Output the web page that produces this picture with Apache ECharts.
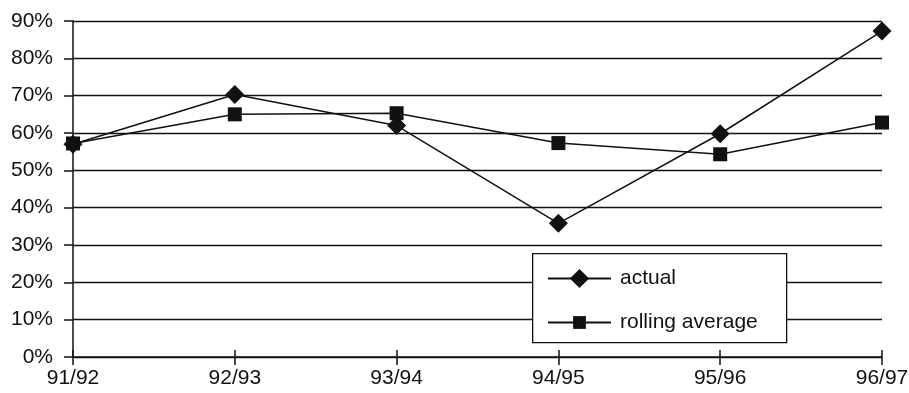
<!DOCTYPE html>
<html>
<head>
<meta charset="utf-8">
<script src="https://cdn.jsdelivr.net/npm/echarts@6/dist/echarts.min.js"></script>
<style>
html, body { margin: 0; padding: 0; background: #fff; }
#main { width: 909px; height: 393px; }
</style>
</head>
<body>
<div id="main"></div>
<script>
// seasons on the x axis
var seasons = ['91/92', '92/93', '93/94', '94/95', '95/96', '96/97'];
// percentages
var actual = [57, 70.3, 62, 35.8, 59.8, 87.3];
var rollingAverage = [57.2, 65, 65.3, 57.3, 54.3, 62.8];
var yTicks = [0, 10, 20, 30, 40, 50, 60, 70, 80, 90];

var font = 'Liberation Sans, Arial, sans-serif';
var ink = '#111';
var textStyle = { fontFamily: font, fontSize: 21, color: ink, padding: [0, 0, 0, 4] };

var chart = echarts.init(document.getElementById('main'));

chart.setOption({
    animation: false,
    backgroundColor: '#fff',
    grid: { left: 73, right: 27, top: 21, bottom: 36, outerBoundsMode: 'none' },
    // legend frame, the two entries sit on top of it
    graphic: [{
        type: 'rect',
        left: 532,
        top: 253,
        z: 10,
        shape: { width: 254, height: 89 },
        style: { fill: '#fff', stroke: ink, lineWidth: 1.3 }
    }],
    legend: [{
        data: ['actual'],
        left: 547,
        top: 268,
        padding: 0,
        itemWidth: 63,
        itemHeight: 24,
        z: 11,
        textStyle: textStyle
    }, {
        data: ['rolling average'],
        left: 547,
        top: 312,
        padding: 0,
        itemWidth: 63,
        itemHeight: 16,
        z: 11,
        textStyle: textStyle
    }],
    xAxis: [{
        type: 'category',
        data: seasons,
        boundaryGap: false,
        axisLine: { lineStyle: { color: ink, width: 1.5 } },
        axisTick: { length: 8, lineStyle: { color: ink, width: 1.5 } },
        axisLabel: { fontFamily: font, fontSize: 21, color: ink, margin: 11 },
        splitLine: { show: false }
    }, {
        type: 'category',
        data: seasons,
        position: 'bottom',
        boundaryGap: false,
        axisLine: { show: false },
        axisTick: { inside: true, length: 7, lineStyle: { color: ink, width: 1.5 } },
        axisLabel: { show: false },
        splitLine: { show: false }
    }],
    yAxis: {
        type: 'value',
        min: yTicks[0],
        max: yTicks[yTicks.length - 1],
        interval: 10,
        axisLine: { show: true, lineStyle: { color: ink, width: 1.5 } },
        axisTick: { show: true, length: 9, lineStyle: { color: ink, width: 1.5 } },
        axisLabel: { fontFamily: font, fontSize: 21, color: ink, margin: 20, formatter: '{value}%' },
        splitLine: { show: true, lineStyle: { color: ink, width: 1.3 } }
    },
    series: [{
        name: 'rolling average',
        type: 'line',
        data: rollingAverage,
        symbol: 'rect',
        symbolSize: 14,
        lineStyle: { color: ink, width: 1.5 },
        itemStyle: { color: ink },
        z: 3
    }, {
        name: 'actual',
        type: 'line',
        data: actual,
        symbol: 'diamond',
        symbolSize: 19,
        lineStyle: { color: ink, width: 1.5 },
        itemStyle: { color: ink },
        z: 4
    }]
});
</script>
</body>
</html>
